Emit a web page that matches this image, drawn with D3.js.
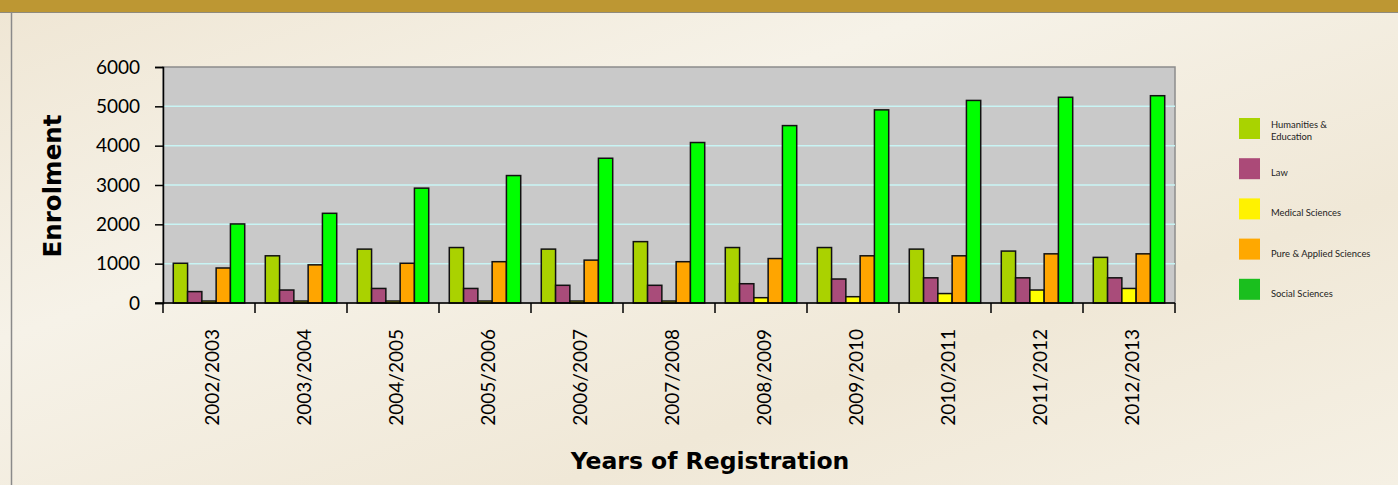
<!DOCTYPE html>
<html>
<head>
<meta charset="utf-8">
<script src="https://cdnjs.cloudflare.com/ajax/libs/d3/7.8.5/d3.min.js"></script>
<style>
  html, body { margin: 0; padding: 0; }
  body { width: 1398px; height: 485px; overflow: hidden; font-family: Lato, "DejaVu Sans", sans-serif; }
</style>
</head>
<body>
<div id="chart"></div>
<script>
const years = ['2002/2003', '2003/2004', '2004/2005', '2005/2006', '2006/2007', '2007/2008',
               '2008/2009', '2009/2010', '2010/2011', '2011/2012', '2012/2013'];
const seriesNames = ['Humanities & Education', 'Law', 'Medical Sciences', 'Pure & Applied Sciences', 'Social Sciences'];
const humanities = [1010, 1200, 1370, 1410, 1370, 1560, 1410, 1410, 1370, 1320, 1160];
const law = [290, 330, 370, 370, 450, 450, 490, 610, 640, 640, 640];
const medical = [50, 50, 50, 50, 50, 50, 135, 160, 240, 330, 370];
const pure = [890, 970, 1010, 1050, 1090, 1050, 1130, 1200, 1200, 1250, 1250];
const social = [2010, 2280, 2920, 3240, 3680, 4080, 4510, 4910, 5150, 5230, 5270];
const yTicks = [0, 1000, 2000, 3000, 4000, 5000, 6000];

const allSeries = [humanities, law, medical, pure, social];
const barColors = ['#aad200', '#a94c7a', '#ffff00', '#ffa500', '#00ff00'];
const legendColors = ['#a9d300', '#ab4a78', '#fff200', '#ffa800', '#1abf1e'];

const W = 1398, H = 485;
const plot = { left: 163, top: 67, right: 1175, bottom: 303 };

const svg = d3.select('#chart').append('svg')
  .attr('width', W)
  .attr('height', H);

// background
const defs = svg.append('defs');
const bg = defs.append('linearGradient').attr('id', 'bg')
  .attr('x1', '0%').attr('y1', '0%').attr('x2', '100%').attr('y2', '100%');
bg.append('stop').attr('offset', '0%').attr('stop-color', '#efe6d4');
bg.append('stop').attr('offset', '35%').attr('stop-color', '#f6f2e8');
bg.append('stop').attr('offset', '70%').attr('stop-color', '#f0e8d7');
bg.append('stop').attr('offset', '100%').attr('stop-color', '#f5f0e4');

svg.append('rect').attr('width', W).attr('height', H).attr('fill', 'url(#bg)');
svg.append('rect').attr('width', W).attr('height', 12).attr('fill', '#bd9733');
svg.append('line')
  .attr('x1', 0).attr('x2', W).attr('y1', 12.5).attr('y2', 12.5)
  .attr('stroke', '#8f8a7c').attr('stroke-width', 1);
svg.append('line')
  .attr('x1', 11.5).attr('x2', 11.5).attr('y1', 12).attr('y2', H)
  .attr('stroke', '#8a8a8a').attr('stroke-width', 1.5);

// scales
const x0 = d3.scaleBand()
  .domain(years)
  .range([plot.left, plot.right])
  .paddingInner(0)
  .paddingOuter(0);

const x1 = d3.scaleBand()
  .domain(d3.range(seriesNames.length))
  .range([0, x0.bandwidth()])
  .paddingOuter(0.72)
  .paddingInner(0);

const y = d3.scaleLinear().domain([0, 6000]).range([plot.bottom, plot.top]);

// plot area
svg.append('rect')
  .attr('x', plot.left).attr('y', plot.top)
  .attr('width', plot.right - plot.left).attr('height', plot.bottom - plot.top)
  .attr('fill', '#c9c9c9')
  .attr('stroke', '#8c8c8c').attr('stroke-width', 1.5);

// gridlines
svg.append('g').selectAll('line')
  .data(yTicks.filter(d => d > 0 && d < 6000))
  .join('line')
  .attr('x1', plot.left).attr('x2', plot.right)
  .attr('y1', d => y(d)).attr('y2', d => y(d))
  .attr('stroke', '#c8f4f4').attr('stroke-width', 1.5);

// bars
const groups = svg.append('g').selectAll('g')
  .data(years)
  .join('g')
  .attr('transform', d => `translate(${x0(d)},0)`);

groups.selectAll('rect')
  .data((d, i) => allSeries.map((s, k) => ({ k: k, v: s[i] })))
  .join('rect')
  .attr('x', d => x1(d.k))
  .attr('y', d => y(d.v))
  .attr('width', x1.bandwidth())
  .attr('height', d => plot.bottom - y(d.v))
  .attr('fill', d => barColors[d.k])
  .attr('stroke', '#111')
  .attr('stroke-width', 1.5);

// y axis
const yAxis = svg.append('g')
  .attr('transform', `translate(${plot.left},0)`)
  .call(d3.axisLeft(y).tickValues(yTicks).tickSize(8).tickPadding(15).tickFormat(d3.format('d')));
yAxis.select('.domain').attr('stroke', '#000').attr('stroke-width', 1.5);
yAxis.selectAll('.tick line').attr('stroke', '#000').attr('stroke-width', 1.5);
yAxis.selectAll('.tick text')
  .attr('font-family', 'Lato, sans-serif')
  .attr('font-size', 19)
  .attr('fill', '#000');

// x axis
const xAxis = svg.append('g')
  .attr('transform', `translate(0,${plot.bottom})`)
  .call(d3.axisBottom(x0).tickSize(0).tickPadding(0));
xAxis.select('.domain').remove();
svg.append('line')
  .attr('x1', plot.left - 8).attr('x2', plot.right)
  .attr('y1', plot.bottom).attr('y2', plot.bottom)
  .attr('stroke', '#000').attr('stroke-width', 1.5);
xAxis.selectAll('.tick text')
  .attr('font-family', 'Lato, sans-serif')
  .attr('font-size', 19)
  .attr('fill', '#000')
  .attr('text-anchor', 'end')
  .attr('dy', '0.35em')
  .attr('transform', 'translate(3,26) rotate(-90)');

// boundary ticks
const bounds = years.map(d => x0(d)).concat([plot.right]);
svg.append('g').selectAll('line')
  .data(bounds)
  .join('line')
  .attr('x1', d => d).attr('x2', d => d)
  .attr('y1', plot.bottom).attr('y2', plot.bottom + 10)
  .attr('stroke', '#000').attr('stroke-width', 1.5);

// axis titles
svg.append('text')
  .attr('transform', `translate(61,186) rotate(-90)`)
  .attr('text-anchor', 'middle')
  .attr('font-family', '"DejaVu Sans", sans-serif')
  .attr('font-weight', 'bold')
  .attr('font-size', 24.5)
  .attr('fill', '#000')
  .text('Enrolment');

svg.append('text')
  .attr('x', 710).attr('y', 469)
  .attr('text-anchor', 'middle')
  .attr('font-family', '"DejaVu Sans", sans-serif')
  .attr('font-weight', 'bold')
  .attr('font-size', 23.5)
  .attr('fill', '#000')
  .text('Years of Registration');

// legend
const legend = svg.append('g').attr('transform', 'translate(1239,118)');
const items = legend.selectAll('g')
  .data(seriesNames)
  .join('g')
  .attr('transform', (d, i) => `translate(0,${i * 40.2})`);
items.append('rect')
  .attr('width', 21).attr('height', 21)
  .attr('fill', (d, i) => legendColors[i]);
items.each(function (d) {
  const g = d3.select(this);
  const lines = d === 'Humanities & Education' ? ['Humanities &', 'Education'] : [d];
  const t = g.append('text')
    .attr('font-family', 'Lato, sans-serif')
    .attr('font-size', 9.4)
    .attr('fill', '#222');
  lines.forEach((l, j) => {
    t.append('tspan')
      .attr('x', 32)
      .attr('y', lines.length > 1 ? 10 + j * 11.5 : 18)
      .text(l);
  });
});
</script>
</body>
</html>
